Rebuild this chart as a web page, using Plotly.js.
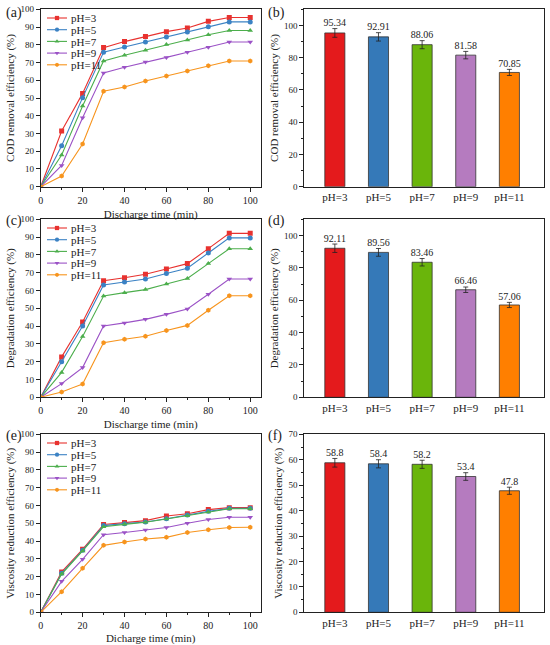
<!DOCTYPE html>
<html>
<head>
<meta charset="utf-8">
<script src="https://cdn.plot.ly/plotly-3.0.1.min.js"></script>
<style>html,body{margin:0;padding:0;background:#fff;}</style>
</head>
<body>
<div id="chart" style="width:550px;height:645px;"></div>
<script>
// ---------- data ----------
const time = [0, 10, 20, 30, 40, 50, 60, 70, 80, 90, 100];
const phLabels = ["pH=3", "pH=5", "pH=7", "pH=9", "pH=11"];

// (a) COD removal efficiency (%)
const cod_pH3  = [0, 31.4, 52.6, 78.4, 81.8, 84.6, 87.4, 89.5, 93.2, 95.34, 95.34];
const cod_pH5  = [0, 23.1, 50.2, 75.8, 78.8, 81.6, 84.4, 87.2, 90.2, 92.91, 92.91];
const cod_pH7  = [0, 17.9, 45.5, 70.9, 74.1, 76.9, 80.1, 82.7, 85.7, 88.06, 88.06];
const cod_pH9  = [0, 12.0, 38.9, 64.1, 67.3, 70.3, 72.9, 75.8, 78.6, 81.58, 81.58];
const cod_pH11 = [0, 6.0, 24.1, 53.8, 56.2, 59.6, 62.4, 65.2, 68.2, 70.85, 70.85];

// (c) Degradation efficiency (%)
const deg_pH3  = [0, 22.7, 42.3, 65.5, 67.2, 69.1, 72.1, 75.1, 83.5, 92.11, 92.11];
const deg_pH5  = [0, 20.0, 40.1, 63.1, 64.8, 66.5, 69.5, 72.5, 81.1, 89.56, 89.56];
const deg_pH7  = [0, 14.0, 34.1, 56.9, 58.8, 60.5, 63.7, 66.7, 75.1, 83.46, 83.46];
const deg_pH9  = [0, 7.7, 16.7, 40.1, 41.8, 43.8, 46.6, 49.6, 57.9, 66.46, 66.46];
const deg_pH11 = [0, 3.0, 7.5, 30.7, 32.6, 34.3, 37.5, 40.4, 48.9, 57.06, 57.06];

// (e) Viscosity reduction efficiency (%)
const vis_pH3  = [0, 22.7, 35.4, 49.3, 50.4, 51.5, 54.1, 55.4, 57.7, 58.8, 58.8];
const vis_pH5  = [0, 21.9, 34.8, 48.7, 49.8, 50.7, 52.6, 54.7, 56.7, 58.4, 58.4];
const vis_pH7  = [0, 21.5, 34.5, 48.1, 49.4, 50.6, 52.4, 54.3, 56.4, 58.2, 58.2];
const vis_pH9  = [0, 17.4, 29.8, 43.6, 44.8, 46.3, 47.6, 50.0, 52.1, 53.4, 53.4];
const vis_pH11 = [0, 11.6, 24.7, 37.6, 39.5, 41.2, 42.1, 44.8, 46.4, 47.6, 47.8];

// (b) (d) (f) final efficiencies with error bars
const codFinal = [95.34, 92.91, 88.06, 81.58, 70.85];
const codErr   = [2.7, 2.6, 2.5, 2.3, 1.9];
const degFinal = [92.11, 89.56, 83.46, 66.46, 57.06];
const degErr   = [2.6, 2.4, 2.3, 1.7, 1.6];
const visFinal = [58.8, 58.4, 58.2, 53.4, 47.8];
const visErr   = [1.7, 1.6, 1.6, 1.5, 1.4];

// ---------- styles ----------
const FONT = "Liberation Serif";
const TXT = "#222";
const lineColors = ["#e8322f", "#3b82c4", "#4cae4c", "#9b52c6", "#f7941d"];
const barColors  = ["#e41a1c", "#3579b8", "#6ab50b", "#b57bbf", "#ff7f00"];
const symbols = ["square", "circle", "triangle-up", "triangle-down", "hexagon"];

const traces = [];
function addLines(series, xa, ya, leg) {
  series.forEach((s, i) => {
    traces.push({
      type: "scatter", mode: "lines+markers", x: time, y: s,
      name: phLabels[i], xaxis: xa, yaxis: ya, legend: leg,
      line: {color: lineColors[i], width: 1.1},
      marker: {color: lineColors[i], symbol: symbols[i], size: 5}
    });
  });
}
addLines([cod_pH3, cod_pH5, cod_pH7, cod_pH9, cod_pH11], "x", "y", "legend");
addLines([deg_pH3, deg_pH5, deg_pH7, deg_pH9, deg_pH11], "x3", "y3", "legend2");
addLines([vis_pH3, vis_pH5, vis_pH7, vis_pH9, vis_pH11], "x5", "y5", "legend3");

function addBars(vals, errs, xa, ya) {
  traces.push({
    type: "bar", x: phLabels, y: vals, xaxis: xa, yaxis: ya, showlegend: false,
    width: 0.46,
    marker: {color: barColors, line: {color: "#333", width: 0.8}},
    error_y: {type: "data", array: errs, visible: true, color: "#222", thickness: 0.8, width: 2.5},
    hoverinfo: "skip"
  });
  traces.push({
    type: "scatter", mode: "text", x: phLabels, y: vals.map((v, i) => v + errs[i]),
    text: vals.map(v => String(v)), textposition: "top center",
    textfont: {family: FONT, size: 10, color: TXT},
    xaxis: xa, yaxis: ya, showlegend: false, hoverinfo: "skip"
  });
}
addBars(codFinal, codErr, "x2", "y2");
addBars(degFinal, degErr, "x4", "y4");
addBars(visFinal, visErr, "x6", "y6");

// ---------- layout ----------
const W = 550, H = 645;
const px = (a, b) => [a / W, b / W];
const py = (top, bottom) => [1 - bottom / H, 1 - top / H];

const baseAxis = {
  showline: true, mirror: true, linecolor: "#222", linewidth: 1,
  ticks: "outside", ticklen: 4, tickwidth: 1, tickcolor: "#222",
  showgrid: false, zeroline: false,
  tickfont: {family: FONT, size: 9, color: TXT}
};
function lineX(anchor, dom, title) {
  return Object.assign({}, baseAxis, {
    anchor, domain: dom, range: [0, 105], dtick: 20, tick0: 0,
    minor: {dtick: 10, ticks: "outside", ticklen: 2, tickcolor: "#222"},
    tickfont: {family: FONT, size: 10, color: TXT},
    title: {text: title, font: {family: FONT, size: 11, color: TXT}, standoff: 5}
  });
}
function lineY(anchor, dom, title) {
  return Object.assign({}, baseAxis, {
    anchor, domain: dom, range: [0, 100], dtick: 10, tick0: 0,
    tickfont: {family: FONT, size: 9, color: TXT},
    title: {text: title, font: {family: FONT, size: 11, color: TXT}, standoff: 3}
  });
}
function barX(anchor, dom) {
  return Object.assign({}, baseAxis, {
    anchor, domain: dom, type: "category", range: [-0.7, 4.8],
    ticks: "", tickfont: {family: FONT, size: 11, color: TXT}
  });
}
function barY(anchor, dom, title, maxv, dt) {
  return Object.assign({}, baseAxis, {
    anchor, domain: dom, range: [0, maxv], dtick: dt, tick0: 0,
    minor: {dtick: dt / 2, ticks: "outside", ticklen: 2, tickcolor: "#222"},
    tickfont: {family: FONT, size: 9, color: TXT},
    title: {text: title, font: {family: FONT, size: 11, color: TXT}, standoff: 3}
  });
}

const legendBase = {
  font: {family: FONT, size: 11, color: TXT},
  bgcolor: "rgba(0,0,0,0)", borderwidth: 0, traceorder: "normal",
  xanchor: "left", yanchor: "top", tracegroupgap: 0, itemwidth: 30,
  xref: "paper", yref: "paper"
};

const colL = px(40.7, 260.7), colR = px(304.3, 544.3);
const rowA = py(9.3, 186.7), rowC = py(219.3, 397.3), rowE = py(434.3, 612.3);

const layout = {
  width: W, height: H, margin: {l: 0, r: 0, t: 0, b: 0},
  paper_bgcolor: "#fff", plot_bgcolor: "#fff",
  font: {family: FONT, color: TXT},
  xaxis:  lineX("y",  colL, "Discharge time (min)"),
  yaxis:  lineY("x",  rowA, "COD removal efficiency (%)"),
  xaxis3: lineX("y3", colL, "Discharge time (min)"),
  yaxis3: lineY("x3", rowC, "Degradation efficiency (%)"),
  xaxis5: lineX("y5", colL, "Dicharge time (min)"),
  yaxis5: lineY("x5", rowE, "Viscosity reduction efficiency (%)"),
  xaxis2: barX("y2", colR),
  yaxis2: barY("x2", rowA, "COD removal efficiency (%)", 110, 20),
  xaxis4: barX("y4", colR),
  yaxis4: barY("x4", rowC, "Degradation efficiency (%)", 110, 20),
  xaxis6: barX("y6", colR),
  yaxis6: barY("x6", rowE, "Viscosity reduction efficiency (%)", 70, 10),
  legend:  Object.assign({}, legendBase, {x: 44 / W, y: 1 - 12 / H}),
  legend2: Object.assign({}, legendBase, {x: 44 / W, y: 1 - 222 / H}),
  legend3: Object.assign({}, legendBase, {x: 44 / W, y: 1 - 437 / H}),
  annotations: [
    ["(a)", 4, 13.5], ["(b)", 266, 13.5],
    ["(c)", 4, 221], ["(d)", 266, 221],
    ["(e)", 4, 436], ["(f)", 266, 436]
  ].map(([t, x, y]) => ({
    text: t, xref: "paper", yref: "paper", x: x / W, y: 1 - y / H,
    xanchor: "left", yanchor: "middle", showarrow: false,
    font: {family: FONT, size: 14, color: TXT}
  }))
};

// compact the legends (the reference uses tight rows and short line samples)
function compactLegends() {
  const gd = document.getElementById("chart");
  const info = gd.querySelector(".infolayer");
  if (!info) return;
  Array.from(info.children).forEach(root => {
    const cls = root.getAttribute("class") || "";
    if (!/^legend/.test(cls)) return;
    const items = Array.from(root.querySelectorAll("g.traces"));
    items.forEach((it, i) => {
      it.setAttribute("transform", "translate(0," + (6 + i * 11.7) + ")");
      it.querySelectorAll("path").forEach(p => {
        const d = p.getAttribute("d") || "";
        const tf = p.getAttribute("transform") || "";
        if (/^M5,0h30/.test(d)) p.setAttribute("d", "M3,0h20");
        else if (/translate\(20/.test(tf)) p.setAttribute("transform", "translate(13,0) scale(0.85)");
      });
      it.querySelectorAll("text").forEach(t => t.setAttribute("x", 27));
    });
  });
}

Plotly.newPlot("chart", traces, layout, {displayModeBar: false, staticPlot: true}).then(gd => {
  compactLegends();
  gd.on("plotly_afterplot", compactLegends);
  [30, 150, 400, 900].forEach(t => setTimeout(compactLegends, t));
});
</script>
</body>
</html>
